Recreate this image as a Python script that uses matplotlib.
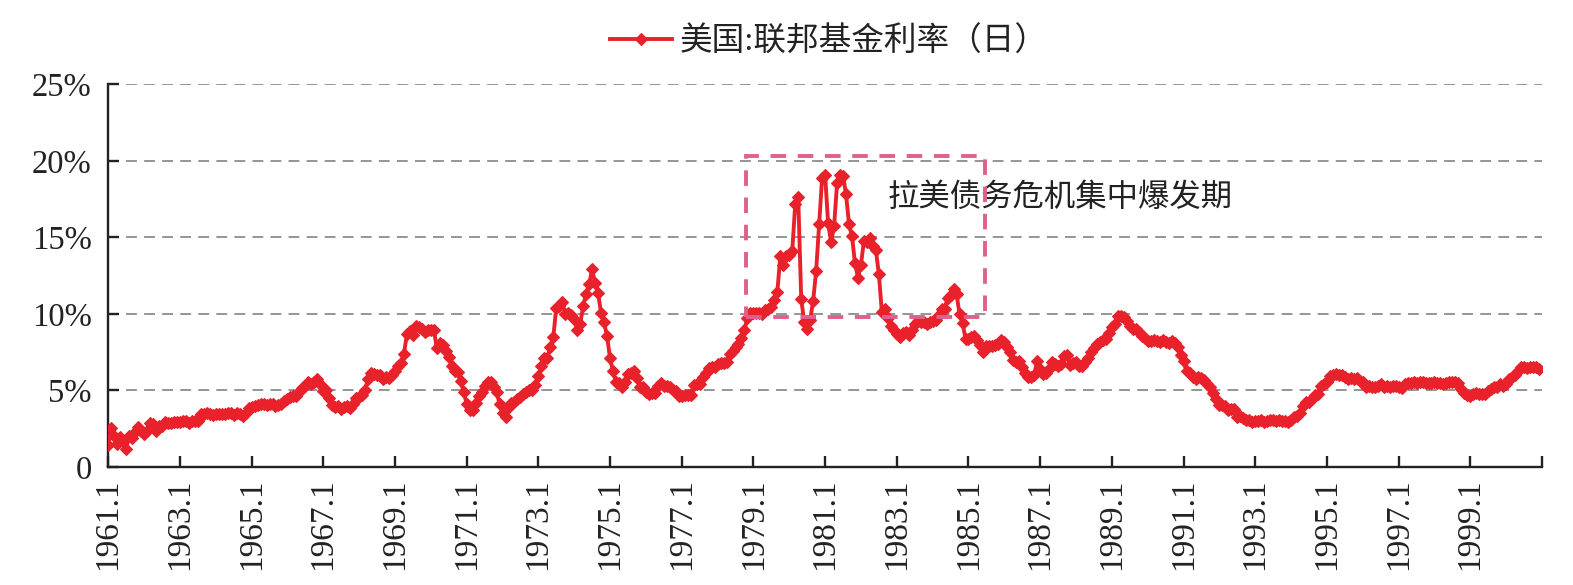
import matplotlib
matplotlib.use("Agg")
import matplotlib.pyplot as plt
from matplotlib.patches import Rectangle
import numpy as np

plt.rcParams['font.family'] = ['Liberation Serif', 'Noto Sans CJK SC', 'DejaVu Sans']

start_year = 1961
# Monthly values (%), 1961.1 - 2000.12
rate_1961_1970 = [
    1.45, 2.54, 2.02, 1.49, 1.98, 1.73, 1.17, 2.00, 1.88, 2.26, 2.61, 2.33,
    2.15, 2.37, 2.85, 2.78, 2.36, 2.68, 2.71, 2.93, 2.90, 2.90, 2.94, 2.93,
    2.92, 3.00, 2.98, 2.90, 3.00, 2.99, 3.02, 3.49, 3.48, 3.50, 3.48, 3.38,
    3.48, 3.48, 3.43, 3.47, 3.50, 3.50, 3.42, 3.50, 3.45, 3.36, 3.52, 3.85,
    3.90, 3.98, 4.04, 4.09, 4.10, 4.04, 4.09, 4.12, 4.01, 4.08, 4.10, 4.32,
    4.42, 4.60, 4.65, 4.67, 4.90, 5.17, 5.30, 5.53, 5.40, 5.53, 5.76, 5.40,
    4.94, 5.00, 4.53, 4.05, 3.94, 3.98, 3.79, 3.90, 3.99, 3.88, 4.13, 4.51,
    4.60, 4.71, 5.05, 5.76, 6.12, 6.07, 6.02, 6.03, 5.78, 5.91, 5.82, 6.02,
    6.30, 6.61, 6.79, 7.41, 8.67, 8.90, 8.61, 9.19, 9.15, 9.00, 8.85, 8.97,
    8.98, 8.98, 7.76, 8.10, 7.95, 7.61, 7.21, 6.61, 6.29, 6.20, 5.60, 4.90,
]
rate_1971_1980 = [
    4.14, 3.72, 3.71, 4.16, 4.63, 4.91, 5.31, 5.56, 5.55, 5.20, 4.91, 4.14,
    3.50, 3.29, 3.83, 4.17, 4.27, 4.46, 4.55, 4.80, 4.87, 5.04, 5.06, 5.33,
    5.94, 6.58, 7.09, 7.12, 7.84, 8.49, 10.40, 10.50, 10.78, 10.01, 10.03, 9.95,
    9.65, 8.97, 9.35, 10.51, 11.31, 11.93, 12.92, 12.01, 11.34, 10.06, 9.45, 8.53,
    7.13, 6.24, 5.54, 5.49, 5.22, 5.55, 6.10, 6.14, 6.24, 5.82, 5.22, 5.20,
    4.87, 4.77, 4.84, 4.82, 5.29, 5.48, 5.31, 5.29, 5.25, 5.03, 4.95, 4.65,
    4.61, 4.68, 4.69, 4.73, 5.35, 5.39, 5.42, 5.90, 6.14, 6.47, 6.51, 6.56,
    6.70, 6.78, 6.79, 6.89, 7.36, 7.60, 7.81, 8.04, 8.45, 8.96, 9.76, 10.03,
    10.07, 10.06, 10.09, 10.01, 10.24, 10.29, 10.47, 10.94, 11.43, 13.77, 13.18, 13.78,
    13.82, 14.13, 17.19, 17.61, 10.98, 9.47, 9.03, 9.61, 10.87, 12.81, 15.85, 18.90,
]
rate_1981_1990 = [
    19.08, 15.93, 14.70, 15.72, 18.52, 19.10, 19.04, 17.82, 15.87, 15.08, 13.31, 12.37,
    13.22, 14.78, 14.68, 14.94, 14.45, 14.15, 12.59, 10.12, 10.31, 9.71, 9.20, 8.95,
    8.68, 8.51, 8.77, 8.80, 8.63, 8.98, 9.37, 9.56, 9.45, 9.48, 9.34, 9.47,
    9.56, 9.59, 9.91, 10.29, 10.32, 11.06, 11.23, 11.64, 11.30, 9.99, 9.43, 8.38,
    8.35, 8.50, 8.58, 8.27, 7.97, 7.53, 7.88, 7.90, 7.92, 7.99, 8.05, 8.27,
    8.14, 7.86, 7.48, 6.99, 6.85, 6.92, 6.56, 6.17, 5.89, 5.85, 6.04, 6.91,
    6.43, 6.10, 6.13, 6.37, 6.85, 6.73, 6.58, 6.73, 7.22, 7.29, 6.69, 6.77,
    6.83, 6.58, 6.58, 6.87, 7.09, 7.51, 7.75, 8.01, 8.19, 8.30, 8.35, 8.76,
    9.12, 9.36, 9.85, 9.84, 9.81, 9.53, 9.24, 8.99, 9.02, 8.84, 8.55, 8.45,
    8.23, 8.24, 8.28, 8.26, 8.18, 8.29, 8.15, 8.13, 8.20, 8.11, 7.81, 7.31,
]
rate_1991_2000 = [
    6.91, 6.25, 6.12, 5.91, 5.78, 5.90, 5.82, 5.66, 5.45, 5.21, 4.81, 4.43,
    4.03, 4.06, 3.98, 3.73, 3.82, 3.76, 3.25, 3.30, 3.22, 3.10, 3.09, 2.92,
    3.02, 3.03, 3.07, 2.96, 3.00, 3.04, 3.06, 3.03, 3.09, 2.99, 3.02, 2.96,
    3.05, 3.25, 3.34, 3.56, 4.01, 4.25, 4.26, 4.47, 4.73, 4.76, 5.29, 5.45,
    5.53, 5.92, 5.98, 6.05, 6.01, 6.00, 5.85, 5.74, 5.80, 5.76, 5.80, 5.60,
    5.56, 5.22, 5.31, 5.22, 5.24, 5.27, 5.40, 5.22, 5.30, 5.24, 5.31, 5.29,
    5.25, 5.19, 5.39, 5.51, 5.50, 5.56, 5.52, 5.54, 5.54, 5.50, 5.52, 5.50,
    5.56, 5.51, 5.49, 5.45, 5.49, 5.56, 5.54, 5.55, 5.51, 5.07, 4.83, 4.68,
    4.63, 4.76, 4.81, 4.74, 4.74, 4.76, 4.99, 5.07, 5.22, 5.20, 5.42, 5.30,
    5.45, 5.73, 5.85, 6.02, 6.27, 6.53, 6.54, 6.50, 6.52, 6.51, 6.51, 6.40,
]
rates = rate_1961_1970 + rate_1971_1980 + rate_1981_1990 + rate_1991_2000

tick_years = list(range(1961, 2002, 2))
tick_labels = [f"{y}.1" if y < 2001 else "" for y in tick_years]
y_ticks = [0, 5, 10, 15, 20, 25]
y_labels = ["0", "5%", "10%", "15%", "20%", "25%"]

series_name = "美国:联邦基金利率（日）"
note_text = "拉美债务危机集中爆发期"
box_x = [1978.8, 1985.45]
box_y = [9.8, 20.3]

x = np.array([start_year + i / 12 for i in range(len(rates))])

fig = plt.figure(figsize=(15.73, 5.85), dpi=100)
ax = fig.add_axes([0.0688, 0.2017, 0.9115, 0.6542])

red = "#E8212B"
line, = ax.plot(x, rates, color=red, lw=2.8, marker='D', markersize=6.5,
                markeredgewidth=0.8, markeredgecolor=red, label=series_name, zorder=3)

ax.set_xlim(1961, 2001)
ax.set_ylim(0, 25)
ax.set_yticks(y_ticks)
ax.set_yticklabels(y_labels)
ax.set_xticks(tick_years)
ax.set_xticklabels(tick_labels, rotation=90)

for yv in y_ticks[1:]:
    ax.axhline(yv, color="#8c8c8c", lw=1.3, linestyle=(0, (6, 4)), zorder=1)

for s in ["top", "right"]:
    ax.spines[s].set_visible(False)
for s in ["left", "bottom"]:
    ax.spines[s].set_linewidth(1.7)
    ax.spines[s].set_color("#222222")

ax.tick_params(axis='both', direction='in', length=8, width=1.7, color="#222222",
               labelcolor="#222222")
ax.tick_params(axis='y', pad=12, labelsize=23.5)
ax.tick_params(axis='x', pad=8, labelsize=24)

rect = Rectangle((box_x[0], box_y[0]), box_x[1] - box_x[0], box_y[1] - box_y[0],
                 fill=False, edgecolor="#E0608C", lw=2.8, linestyle=(0, (4, 3)), zorder=4)
ax.add_patch(rect)

ax.text(1982.75, 17.65, note_text, fontsize=22.6, ha='left', va='center',
        color="#222222", family=['Noto Sans CJK SC', 'DejaVu Sans'])

fig.legend(handles=[line], loc='center', bbox_to_anchor=(0.527, 0.928), frameon=False,
           handlelength=1.9, handletextpad=0.25, labelcolor="#222222",
           prop={'family': ['Liberation Serif', 'Noto Sans CJK SC'], 'size': 23.5})

fig.savefig("out.png", dpi=100)
